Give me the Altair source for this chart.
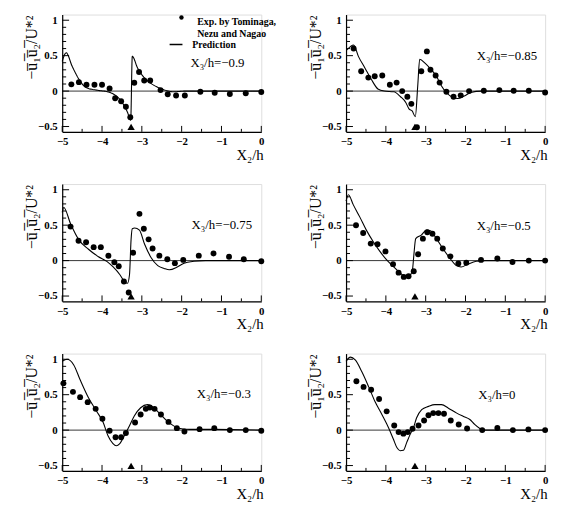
import altair as alt
import pandas as pd

# ---------------- data ----------------
panel_labels = ["X₃/h=−0.9", "X₃/h=−0.85", "X₃/h=−0.75", "X₃/h=−0.5", "X₃/h=−0.3", "X₃/h=0"]
label_x = [-1.78, -1.72, -1.75, -1.72, -1.62, -1.68]
label_y = [0.40, 0.50, 0.50, 0.49, 0.51, 0.49]

exp_x_1 = [-4.77, -4.58, -4.39, -4.19, -4.0, -3.81, -3.67, -3.52, -3.40, -3.29, -3.19, -3.07, -2.94, -2.79, -2.53, -2.35, -2.14, -1.92, -1.53, -1.17, -0.79, -0.39, 0.0]
exp_y_1 = [0.095, 0.126, 0.09, 0.09, 0.09, 0.036, -0.10, -0.144, -0.22, -0.37, 0.117, 0.27, 0.15, 0.15, 0.014, -0.045, -0.063, -0.063, -0.009, -0.023, -0.04, -0.03, -0.013]
pred_x_1 = [-5.0, -4.9, -4.75, -4.56, -4.4, -4.1, -3.86, -3.69, -3.52, -3.36, -3.28, -3.24, -3.11, -2.94, -2.69, -2.45, -2.2, -1.9, -1.5, 0.0]
pred_y_1 = [0.42, 0.54, 0.35, 0.15, 0.05, 0.01, -0.01, -0.05, -0.14, -0.30, -0.41, 0.49, 0.33, 0.19, 0.08, 0.02, -0.01, 0.0, 0.0, 0.0]

exp_x_2 = [-4.81, -4.62, -4.44, -4.28, -4.09, -3.90, -3.73, -3.59, -3.46, -3.36, -3.22, -3.11, -2.97, -2.88, -2.75, -2.65, -2.48, -2.30, -2.12, -1.91, -1.54, -1.15, -0.79, -0.41, 0.0]
exp_y_2 = [0.60, 0.28, 0.19, 0.21, 0.22, 0.09, 0.12, 0.0, -0.08, -0.18, -0.51, 0.28, 0.56, 0.30, 0.22, 0.12, -0.01, -0.08, -0.06, 0.0, 0.005, 0.014, 0.005, 0.005, -0.02]
pred_x_2 = [-4.98, -4.81, -4.69, -4.53, -4.36, -4.2, -4.04, -3.8, -3.63, -3.5, -3.42, -3.34, -3.26, -3.20, -3.15, -3.01, -2.89, -2.73, -2.61, -2.48, -2.32, -2.2, -2.03, -1.87, -1.6, 0.0]
pred_y_2 = [0.58, 0.65, 0.49, 0.33, 0.16, 0.03, 0.0, -0.01, -0.08, -0.16, -0.25, -0.28, -0.36, 0.07, 0.45, 0.39, 0.32, 0.21, 0.08, -0.02, -0.09, -0.105, -0.07, -0.02, 0.0, 0.0]

exp_x_3 = [-4.79, -4.59, -4.40, -4.21, -4.03, -3.84, -3.69, -3.58, -3.45, -3.33, -3.22, -3.06, -2.95, -2.83, -2.73, -2.56, -2.36, -2.17, -1.96, -1.57, -1.20, -0.81, -0.44, 0.0]
exp_y_3 = [0.48, 0.28, 0.26, 0.19, 0.19, 0.068, -0.023, -0.08, -0.295, -0.45, 0.11, 0.66, 0.45, 0.30, 0.17, 0.07, 0.02, -0.036, 0.01, 0.07, 0.10, 0.055, 0.02, -0.01]
pred_x_3 = [-5.0, -4.96, -4.79, -4.59, -4.34, -4.09, -3.88, -3.72, -3.55, -3.43, -3.36, -3.31, -3.27, -3.24, -3.18, -3.06, -2.93, -2.77, -2.60, -2.44, -2.31, -2.11, -1.94, -1.69, -1.4, 0.0]
pred_y_3 = [0.68, 0.75, 0.52, 0.30, 0.16, 0.055, -0.01, -0.09, -0.2, -0.3, -0.32, -0.2, 0.3, 0.45, 0.46, 0.43, 0.23, 0.045, -0.07, -0.11, -0.13, -0.09, -0.036, -0.01, 0.0, 0.0]

exp_x_4 = [-4.75, -4.57, -4.38, -4.21, -4.01, -3.82, -3.68, -3.55, -3.43, -3.30, -3.19, -3.07, -2.96, -2.83, -2.71, -2.57, -2.38, -2.18, -1.98, -1.61, -1.2, -0.82, -0.41, 0.0]
exp_y_4 = [0.50, 0.39, 0.24, 0.23, 0.13, -0.05, -0.17, -0.23, -0.22, -0.15, 0.09, 0.31, 0.40, 0.38, 0.31, 0.17, 0.06, -0.04, -0.03, 0.01, 0.03, -0.02, 0.0, 0.0]
pred_x_4 = [-5.0, -4.94, -4.82, -4.65, -4.49, -4.32, -4.15, -3.98, -3.82, -3.65, -3.53, -3.4, -3.33, -3.30, -3.25, -3.11, -2.98, -2.88, -2.73, -2.57, -2.4, -2.23, -2.11, -1.94, -1.73, -1.5, 0.0]
pred_y_4 = [0.84, 0.93, 0.79, 0.61, 0.43, 0.27, 0.13, 0.01, -0.08, -0.17, -0.22, -0.21, -0.12, 0.06, 0.31, 0.36, 0.43, 0.42, 0.31, 0.17, 0.04, -0.07, -0.09, -0.05, -0.01, 0.0, 0.0]

exp_x_5 = [-4.97, -4.73, -4.55, -4.36, -4.16, -3.99, -3.81, -3.66, -3.52, -3.40, -3.17, -3.03, -2.90, -2.80, -2.68, -2.52, -2.33, -2.12, -1.93, -1.55, -1.18, -0.79, -0.39, 0.0]
exp_y_5 = [0.66, 0.54, 0.465, 0.395, 0.30, 0.16, -0.01, -0.10, -0.10, -0.04, 0.107, 0.22, 0.30, 0.32, 0.30, 0.22, 0.116, 0.028, -0.02, 0.014, 0.028, 0.0, 0.0, -0.01]
pred_x_5 = [-5.0, -4.88, -4.71, -4.55, -4.34, -4.14, -3.97, -3.85, -3.73, -3.64, -3.56, -3.44, -3.31, -3.19, -3.03, -2.86, -2.70, -2.53, -2.37, -2.2, -2.04, -1.8, -1.2, 0.0]
pred_y_5 = [0.97, 1.0, 0.92, 0.71, 0.456, 0.27, 0.107, -0.08, -0.186, -0.22, -0.195, -0.08, 0.06, 0.2, 0.316, 0.36, 0.316, 0.22, 0.13, 0.06, 0.023, 0.01, 0.01, 0.0]

exp_x_6 = [-4.74, -4.56, -4.37, -4.17, -3.98, -3.79, -3.68, -3.56, -3.45, -3.33, -3.18, -3.04, -2.93, -2.81, -2.68, -2.54, -2.37, -2.17, -1.96, -1.58, -1.2, -0.81, -0.42, 0.0]
exp_y_6 = [0.69, 0.61, 0.57, 0.44, 0.265, 0.065, -0.028, -0.05, -0.028, 0.019, 0.065, 0.135, 0.21, 0.24, 0.24, 0.23, 0.135, 0.08, 0.023, 0.0, 0.03, 0.0, 0.01, 0.0]
pred_x_6 = [-5.0, -4.89, -4.77, -4.6, -4.43, -4.27, -4.1, -3.93, -3.81, -3.72, -3.64, -3.56, -3.48, -3.39, -3.31, -3.23, -3.1, -2.93, -2.77, -2.6, -2.43, -2.22, -2.06, -1.89, -1.77, -1.64, -1.52, 0.0]
pred_y_6 = [0.97, 1.03, 0.99, 0.82, 0.61, 0.40, 0.22, 0.03, -0.13, -0.25, -0.29, -0.285, -0.18, -0.06, 0.03, 0.17, 0.29, 0.335, 0.36, 0.36, 0.31, 0.24, 0.195, 0.15, 0.08, 0.023, 0.0, 0.0]

marker_x = [-3.27]
marker_y = [-0.505]

x_major = [-5, -4, -3, -2, -1, 0]
x_minor = [-4.5, -3.5, -2.5, -1.5, -0.5]
y_major = [-0.5, 0, 0.5, 1]
y_minor = [-0.4, -0.3, -0.2, -0.1, 0.1, 0.2, 0.3, 0.4, 0.6, 0.7, 0.8, 0.9]

EXP = "Exp. by Tominaga,|Nezu and Nagao"
PRED = "Prediction"

exp_sets = [(exp_x_1, exp_y_1), (exp_x_2, exp_y_2), (exp_x_3, exp_y_3),
            (exp_x_4, exp_y_4), (exp_x_5, exp_y_5), (exp_x_6, exp_y_6)]
pred_sets = [(pred_x_1, pred_y_1), (pred_x_2, pred_y_2), (pred_x_3, pred_y_3),
             (pred_x_4, pred_y_4), (pred_x_5, pred_y_5), (pred_x_6, pred_y_6)]

W, H = 202, 119
SERIF = "Liberation Serif"

xs = alt.Scale(domain=[-5, 0], nice=False, zero=False)
ys = alt.Scale(domain=[-0.575, 1.08], nice=False, zero=False)

xax = alt.Axis(values=x_major, format="d", ticks=False, grid=False, labelFlush=False,
               labelFont=SERIF, labelFontWeight="bold", labelFontSize=11, labelColor="black",
               labelPadding=4, domainColor="black", domainWidth=1.2,
               title="X₂/h", titleFont=SERIF, titleFontSize=15, titleFontWeight="normal",
               titleColor="black", titleAnchor="end", titleAlign="right",
               titleBaseline="alphabetic", titleY=28, titleX=W + 2)
yax = alt.Axis(values=y_major, format="~g", ticks=False, grid=False,
               labelFont=SERIF, labelFontWeight="bold", labelFontSize=11, labelColor="black",
               labelPadding=5, domainColor="black", domainWidth=1.2,
               title="−u̅₁̅u̅₂̅/U*²", titleFont=SERIF, titleFontSize=16, titleFontWeight="normal",
               titleColor="black", titleAngle=-90, titleAlign="center", titleBaseline="middle",
               titleX=-31, titleY=33)


def X():
    return alt.X("x:Q", scale=xs, axis=xax)


def Y():
    return alt.Y("y:Q", scale=ys, axis=yax)


def panel(i):
    ex, ey = exp_sets[i]
    px, py = pred_sets[i]
    exp_df = pd.DataFrame({"x": ex, "y": ey, "series": EXP})
    pred_df = pd.DataFrame({"x": px, "y": py, "series": PRED})

    zero = alt.Chart(pd.DataFrame({"y": [0]})).mark_rule(color="black", strokeWidth=0.8).encode(y=Y())
    line_base = alt.Chart(pred_df).mark_line(color="black", strokeWidth=1.1, interpolate="monotone")
    pts_base = alt.Chart(exp_df).mark_point(filled=True, color="black", size=36, opacity=1)
    if i == 0:
        line = line_base.encode(
            x=X(), y=Y(),
            strokeDash=alt.StrokeDash("series:N", scale=alt.Scale(domain=[PRED], range=[[1, 0]]),
                                      legend=alt.Legend(title=None, orient="none", legendX=108, legendY=23,
                                                        labelFont=SERIF, labelFontWeight="bold",
                                                        labelFontSize=10, labelColor="black",
                                                        labelOffset=9, symbolSize=170,
                                                        symbolStrokeWidth=1.5, symbolStrokeColor="black")))
        pts = pts_base.encode(
            x=X(), y=Y(),
            shape=alt.Shape("series:N", scale=alt.Scale(domain=[EXP], range=["circle"]),
                            legend=alt.Legend(title=None, orient="none", legendX=116, legendY=-2,
                                              labelExpr="split(datum.label, '|')",
                                              labelFont=SERIF, labelFontWeight="bold", labelFontSize=10,
                                              labelColor="black", labelOffset=11, symbolSize=20,
                                              symbolFillColor="black", labelBaseline="top")))
    else:
        line = line_base.encode(x=X(), y=Y())
        pts = pts_base.encode(x=X(), y=Y())
    tri = alt.Chart(pd.DataFrame({"x": marker_x, "y": marker_y})).mark_point(
        shape="triangle-up", filled=True, color="black", size=55, opacity=1).encode(x=X(), y=Y())
    xt1 = alt.Chart(pd.DataFrame({"x": x_major})).mark_rule(color="black", strokeWidth=1).encode(
        x=X(), y=alt.value(H), y2=alt.value(H - 6))
    xt2 = alt.Chart(pd.DataFrame({"x": x_minor})).mark_rule(color="black", strokeWidth=1).encode(
        x=X(), y=alt.value(H), y2=alt.value(H - 3))
    yt1 = alt.Chart(pd.DataFrame({"y": y_major})).mark_rule(color="black", strokeWidth=1).encode(
        y=Y(), x=alt.value(0), x2=alt.value(7))
    yt2 = alt.Chart(pd.DataFrame({"y": y_minor})).mark_rule(color="black", strokeWidth=1).encode(
        y=Y(), x=alt.value(0), x2=alt.value(4))
    lab = alt.Chart(pd.DataFrame({"x": [label_x[i]], "y": [label_y[i]], "t": [panel_labels[i]]})).mark_text(
        align="left", baseline="middle", font=SERIF, fontSize=13, color="black").encode(
        x=X(), y=Y(), text="t:N")
    return alt.layer(zero, xt1, xt2, yt1, yt2, line, tri, pts, lab).properties(width=W, height=H)


panels = [panel(i) for i in range(6)]
chart = alt.concat(*panels, columns=2, spacing={"row": 53, "column": 86}, bounds="flush").resolve_legend(
    shape="independent", strokeDash="independent").properties(
    padding={"left": 15, "top": 0, "right": 5, "bottom": 0}
).configure_view(stroke=None).configure(background="white")

chart.save("out.html", embed_options={"renderer": "svg", "actions": False})
